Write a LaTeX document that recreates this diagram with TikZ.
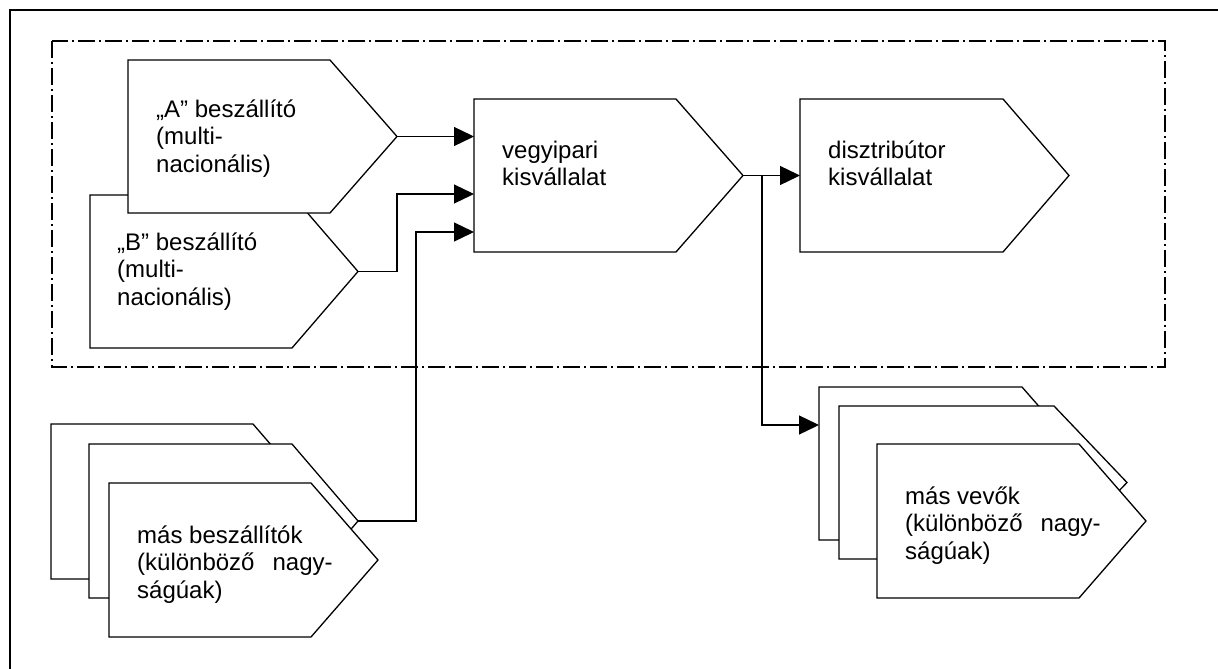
\documentclass[tikz,border=0pt]{standalone}
\usepackage{fontspec}
\setmainfont{Liberation Sans}
\usetikzlibrary{arrows.meta}
\tikzset{
  shapeline/.style={line width=1.3pt, line join=miter},
  conn/.style={line width=1.3pt},
  arr/.style={conn, -{Triangle[length=20pt,width=19pt]}},
  lbl/.style={anchor=base west, inner sep=0pt, align=left, font=\fontsize{24}{27.5}\selectfont},
  grpbox/.style={line width=1.3pt, dash pattern=on 17pt off 4pt on 2pt off 4pt},
}
% name, left, top, bottom, flat right, tip
\newcommand\pentbox[6]{%
  \draw[shapeline, fill=white] (#2,#3) -- (#5,#3) -- (#6,{(#3+#4)/2}) -- (#5,#4) -- (#2,#4) -- cycle;
  \coordinate (#1-tip) at (#6,{(#3+#4)/2});
}
\begin{document}
\begin{tikzpicture}[x=1pt,y=-1pt]
\useasboundingbox (0,0) rectangle (1218,669);
% outer frame
\draw[line width=2pt] (10,669) -- (10,10) -- (1218,10);
% group box
\draw[grpbox] (52,41) rectangle (1165,367);
% suppliers A and B
\pentbox{B}{90}{195}{348}{292}{358}
\pentbox{A}{128}{60}{213}{330}{397}
% chemical company and distributor
\pentbox{V}{474}{99}{252}{676}{743}
\pentbox{D}{800}{99}{252}{1003}{1069}
% other suppliers
\pentbox{S3}{51}{424}{579}{253}{320}
\pentbox{S2}{89}{444}{598}{292}{358}
\pentbox{S1}{109}{483}{637}{311}{378}
% other customers
\pentbox{C3}{819}{387}{540}{1022}{1089}
\pentbox{C2}{839}{406}{559}{1054}{1127}
\pentbox{C1}{877}{444}{598}{1079}{1146}
% labels (anchored at the baseline of the last line)
\node[lbl] (tA) at (156,172) {„A” beszállító\\(multi-\\nacionális)};
\node[lbl] (tB) at (117,305) {„B” beszállító\\(multi-\\nacionális)};
\node[lbl] (tV) at (502,185.5) {vegyipari\\kisvállalat};
\node[lbl] (tD) at (828,185.5) {disztribútor\\kisvállalat};
\node[lbl] (tS) at (137,598) {más beszállítók\\(különböző\hspace{18pt}nagy-\\ságúak)};
\node[lbl] (tC) at (905,559) {más vevők\\(különböző\hspace{18pt}nagy-\\ságúak)};
% connector endpoints
\coordinate (V-in1) at (474,136.5);
\coordinate (V-in2) at (474,194);
\coordinate (V-in3) at (474,232);
\coordinate (D-in) at (800,175.5);
\coordinate (C-in) at (819,425);
\coordinate (B-bend) at (397,271.5);
\coordinate (S-bend) at (416,521);
\coordinate (split) at (762,175.5);
% connectors
\draw[arr] (A-tip) -- (V-in1);
\draw[arr] (B-tip) -- (B-bend) |- (V-in2);
\draw[arr] (S2-tip) -- (S-bend) |- (V-in3);
\draw[arr] (V-tip) -- (D-in);
\draw[arr] (split) |- (C-in);
\end{tikzpicture}
\end{document}
